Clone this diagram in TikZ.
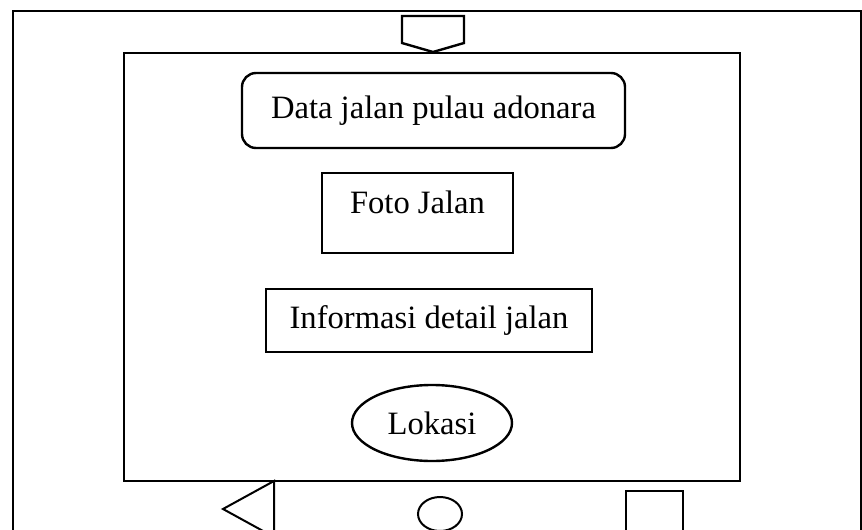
\documentclass[tikz,border=0pt]{standalone}
\usepackage{fontspec}
\setmainfont{Liberation Serif}
\usetikzlibrary{shapes.geometric}
\tikzset{
  frame/.style={draw, line width=2.4pt, inner sep=0pt},
  textbox/.style={draw, line width=2.4pt, inner sep=0pt,
    font=\fontsize{32.6}{38}\selectfont},
  icon/.style={draw, line width=2pt}
}
\begin{document}
\begin{tikzpicture}[x=1pt, y=-1pt]
  \useasboundingbox (0,0) rectangle (862,530);
  \clip (0,0) rectangle (862,530);
  % phone body and screen
  \node[frame, anchor=north west, minimum width=848, minimum height=560] (body) at (12,10) {};
  \node[frame, anchor=north west, minimum width=616, minimum height=428] (screen) at (123,52) {};
  % notch at the top edge
  \draw[icon, line width=2.4pt] (402,16) -- (464,16) -- (464,43) -- (433,52) -- (402,43) -- cycle;
  % screen content
  \node[textbox, rounded corners=14pt, minimum width=383, minimum height=75] (data) at (433.5,110.5) {Data jalan pulau adonara};
  \node[textbox, minimum width=191, minimum height=80, text height=10pt, text depth=10pt] (foto) at (417.5,213) {Foto Jalan};
  \node[textbox, minimum width=326, minimum height=63] (info) at (429,320.5) {Informasi detail jalan};
  \node[textbox, ellipse, minimum width=160, minimum height=76] (lokasi) at (432,423) {Lokasi};
  % navigation buttons
  \draw[icon] (274,481) -- (223,509) -- (274,537) -- cycle;
  \draw[icon] (440,514) ellipse [x radius=22, y radius=17];
  \draw[icon] (626,491) rectangle (683,545);
\end{tikzpicture}
\end{document}
